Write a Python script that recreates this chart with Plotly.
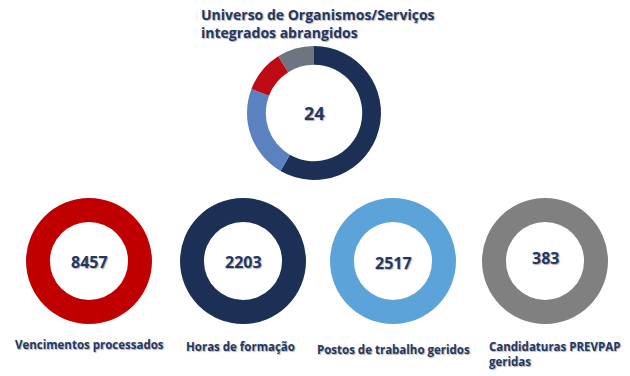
import plotly.graph_objects as go

# Top donut data
top_title = "Universo de Organismos/Serviços<br>integrados abrangidos"
top_total = "24"
top_labels = ["A", "B", "C", "D"]
top_values = [14.0, 5.4, 2.45, 2.15]
top_colors = ["#1B3054", "#5B82C0", "#BE0A14", "#6E7580"]

# Bottom KPI donuts
kpi_labels = ["Vencimentos processados", "Horas de formação",
              "Postos de trabalho geridos", "Candidaturas PREVPAP<br>geridas"]
kpi_values = [8457, 2203, 2517, 383]
kpi_colors = ["#C00000", "#1B3054", "#5BA3D9", "#808080"]

W, H = 630, 376
TXT = "#1F3864"
SHADOW = "1px 1px 1px rgba(80,80,80,0.45)"
FONT = "Open Sans"

fig = go.Figure()

def dom(cx, cy, r):
    return dict(x=[(cx - r) / W, (cx + r) / W], y=[1 - (cy + r) / H, 1 - (cy - r) / H])

fig.add_trace(go.Pie(
    labels=top_labels, values=top_values, hole=0.72, sort=False,
    direction="clockwise", rotation=0, textinfo="none", hoverinfo="label+value",
    marker=dict(colors=top_colors, line=dict(width=0)),
    domain=dom(314, 113, 67), showlegend=False))

fig.add_annotation(x=314 / W, y=1 - 113 / H, xref="paper", yref="paper",
                   xanchor="center", yanchor="middle",
                   text="<b>" + top_total + "</b>", showarrow=False,
                   font=dict(size=18, color=TXT, family=FONT, shadow=SHADOW))
fig.add_annotation(x=199 / W, y=1 - 3 / H, xref="paper", yref="paper",
                   xanchor="left", yanchor="top", align="left",
                   text="<b>" + top_title + "</b>", showarrow=False,
                   font=dict(size=14, color=TXT, family=FONT, shadow=SHADOW))

centers = [89, 243, 393, 545]
num_y = [262, 262, 263, 258]
label_x = [13, 184, 315, 487]
label_y = [335, 337, 340, 337]
for i in range(4):
    fig.add_trace(go.Pie(
        labels=[kpi_labels[i]], values=[kpi_values[i]], hole=0.62, sort=False,
        textinfo="none", hoverinfo="label+value",
        marker=dict(colors=[kpi_colors[i]], line=dict(width=0)),
        domain=dom(centers[i], 261, 63), showlegend=False))
    fig.add_annotation(x=centers[i] / W, y=1 - num_y[i] / H, xref="paper", yref="paper",
                       xanchor="center", yanchor="middle",
                       text="<b>" + str(kpi_values[i]) + "</b>", showarrow=False,
                       font=dict(size=16, color=TXT, family=FONT, shadow=SHADOW))
    fig.add_annotation(x=label_x[i] / W, y=1 - label_y[i] / H, xref="paper", yref="paper",
                       xanchor="left", yanchor="top", align="left",
                       text="<b>" + kpi_labels[i] + "</b>", showarrow=False,
                       font=dict(size=11.5, color=TXT, family=FONT, shadow=SHADOW))

fig.update_layout(width=W, height=H, margin=dict(l=0, r=0, t=0, b=0),
                  paper_bgcolor="white", plot_bgcolor="white")
fig.write_html("out.html", config={"displayModeBar": False},
               post_script="document.body.style.margin='0';document.body.style.overflow='hidden';")
